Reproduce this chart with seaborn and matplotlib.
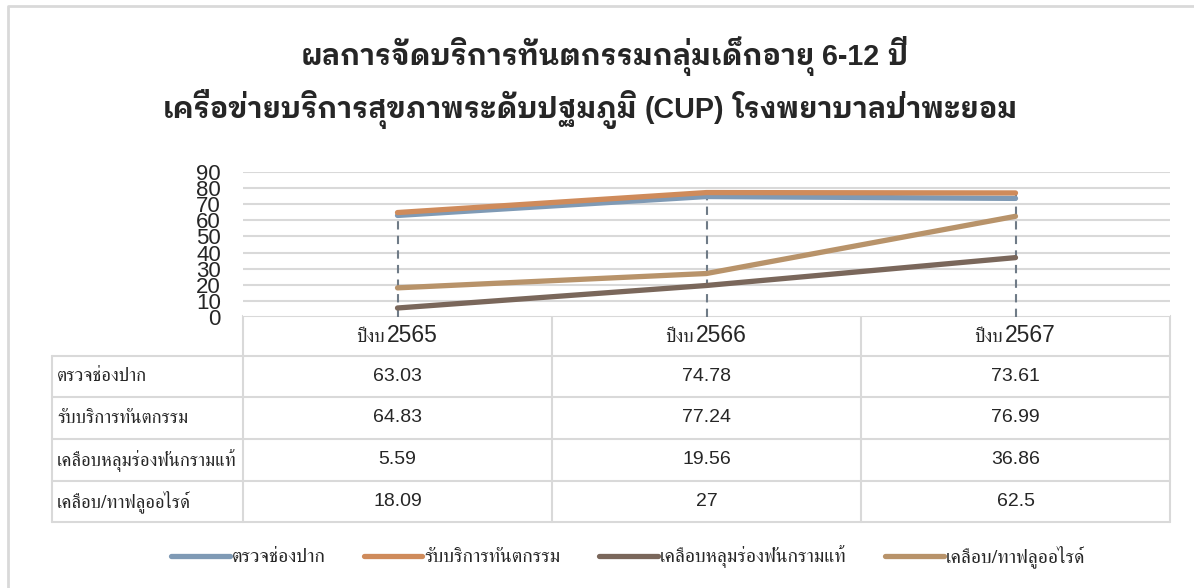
import matplotlib
matplotlib.use('Agg')
import pandas as pd
import matplotlib.pyplot as plt
import seaborn as sns
from matplotlib.font_manager import FontProperties

# ข้อมูลจากกราฟ
years = ['2565', '2566', '2567']
series = ['ตรวจช่องปาก', 'รับบริการทันตกรรม', 'เคลือบหลุมร่องฟันกรามแท้', 'เคลือบ/ทาฟลูออไรด์']
oral_exam = [63.03, 74.78, 73.61]
dental_service = [64.83, 77.24, 76.99]
sealant = [5.59, 19.56, 36.86]
fluoride = [18.09, 27, 62.5]
colors = ['#7F9AB5', '#CF8B5B', '#7A675B', '#B8936A']
title_lines = ['ผลการจัดบริการทันตกรรมกลุ่มเด็กอายุ 6-12 ปี',
               'เครือข่ายบริการสุขภาพระดับปฐมภูมิ (CUP) โรงพยาบาลป่าพะยอม']

values = [oral_exam, dental_service, sealant, fluoride]
df = pd.DataFrame({
    'series': [s for s in series for _ in years],
    'pos': [i for _ in series for i in range(len(years))],
    'value': [v for vals in values for v in vals],
})

sns.set_style('white')
plt.rcParams['font.family'] = ['Liberation Sans', 'FreeSerif']
latin = ['Liberation Sans', 'FreeSerif']
thai = ['FreeSerif']
title_thai = ['IBM Plex Sans Thai Looped']
title_latin = ['Liberation Sans']
grid_c = '#D9D9D9'
text_c = '#262626'

W, H = 1194, 588
fig = plt.figure(figsize=(W / 100, H / 100), dpi=100)

# พื้นที่กราฟ (พิกัดเป็นพิกเซล)
px0, px1, py_top, py_bot = 243, 1170, 172, 317
ax = fig.add_axes([px0 / W, 1 - py_bot / H, (px1 - px0) / W, (py_bot - py_top) / H])
sns.lineplot(data=df, x='pos', y='value', hue='series', hue_order=series,
             palette=colors, linewidth=3.8, ax=ax, sort=False,
             solid_capstyle='round', zorder=3)

# drop lines
for i in range(len(years)):
    top = max(v[i] for v in values)
    ax.vlines(i, 0, top, colors='#6F7B87', linestyles=(0, (4, 3)), linewidth=1.5, zorder=2)

ax.set_xlim(-0.5, len(years) - 0.5)
ax.set_ylim(0, 90)
ax.set_yticks(range(0, 91, 10))
ax.set_xticks([])
ax.set_xlabel('')
ax.set_ylabel('')
ax.yaxis.grid(True, color=grid_c, linewidth=1.5)
ax.set_axisbelow(True)
ax.tick_params(axis='y', length=0, pad=16, labelsize=16, labelcolor=text_c)
for sp in ax.spines.values():
    sp.set_visible(False)

handles, labels = ax.get_legend_handles_labels()
ax.get_legend().remove()

# ชั้นวาดตาราง / ข้อความ
bg = fig.add_axes([0, 0, 1, 1], zorder=-1)
bg.set_xlim(0, W)
bg.set_ylim(H, 0)
bg.axis('off')

# กรอบนอก
bg.plot([8, 8, W], [H, 6, 6], color='#D9D9D9', linewidth=2)


def is_thai(word):
    return any('\u0e00' <= ch <= '\u0e7f' for ch in word)


def draw_title(text, cx, y, size):
    # วาดทีละคำ: ไทยใช้ฟอนต์ไทยตัวหนา, ละตินใช้ Liberation Sans ตัวหนา
    words = text.split(' ')
    parts = []
    for w in words:
        fam = title_thai if is_thai(w) else title_latin
        parts.append(bg.text(0, y, w, ha='left', va='baseline', fontsize=size,
                             fontweight='bold', family=fam, color=text_c))
    rend = fig.canvas.get_renderer()
    widths = [p.get_window_extent(rend).width for p in parts]
    space = size * 100 / 72 * 0.278
    total = sum(widths) + space * (len(words) - 1)
    x = cx - total / 2
    for p, w in zip(parts, widths):
        p.set_x(x)
        x += w + space


draw_title(title_lines[0], 604, 65, 20.6)
draw_title(title_lines[1], 590, 118, 20.6)

# ตารางข้อมูล
row_edges = [316, 356, 397, 439, 481, 522]
col_edges = [px0 + (px1 - px0) * k / len(years) for k in range(len(years) + 1)]
lab_x0 = 52
tc = dict(color=grid_c, linewidth=1.5)
bg.plot([px0, px0], [row_edges[0], row_edges[-1]], **tc)
for xe in col_edges[1:]:
    bg.plot([xe, xe], [row_edges[0], row_edges[-1]], **tc)
bg.plot([lab_x0, lab_x0], [row_edges[1], row_edges[-1]], **tc)
bg.plot([px0, px1], [row_edges[0], row_edges[0]], **tc)
for ye in row_edges[1:]:
    bg.plot([lab_x0, px1], [ye, ye], **tc)

for j, yr in enumerate(years):
    cx = ax.transData.transform((j, 0))[0]
    cy = (row_edges[0] + row_edges[1]) / 2
    bg.text(cx - 13, cy + 1, 'ปีงบ', ha='right', va='center', fontsize=13.5,
            family=thai, color=text_c)
    bg.text(cx - 11, cy, yr, ha='left', va='center', fontsize=16.5,
            family=latin, color=text_c)

for r, (name, vals) in enumerate(zip(series, values)):
    cy = (row_edges[r + 1] + row_edges[r + 2]) / 2
    bg.text(lab_x0 + 5, cy, name, ha='left', va='center', fontsize=13.4,
            family=thai, color=text_c)
    for j, v in enumerate(vals):
        cx = ax.transData.transform((j, 0))[0]
        bg.text(cx, cy, f'{v:g}', ha='center', va='center', fontsize=14,
                family=latin, color=text_c)

fig.legend(handles, labels, loc='center', bbox_to_anchor=(628 / W, 1 - 557 / H),
           ncol=4, frameon=False, handlelength=3.0, handletextpad=0.1,
           columnspacing=2.0, prop=FontProperties(family=thai, size=14))

fig.savefig('out.png', dpi=100)
